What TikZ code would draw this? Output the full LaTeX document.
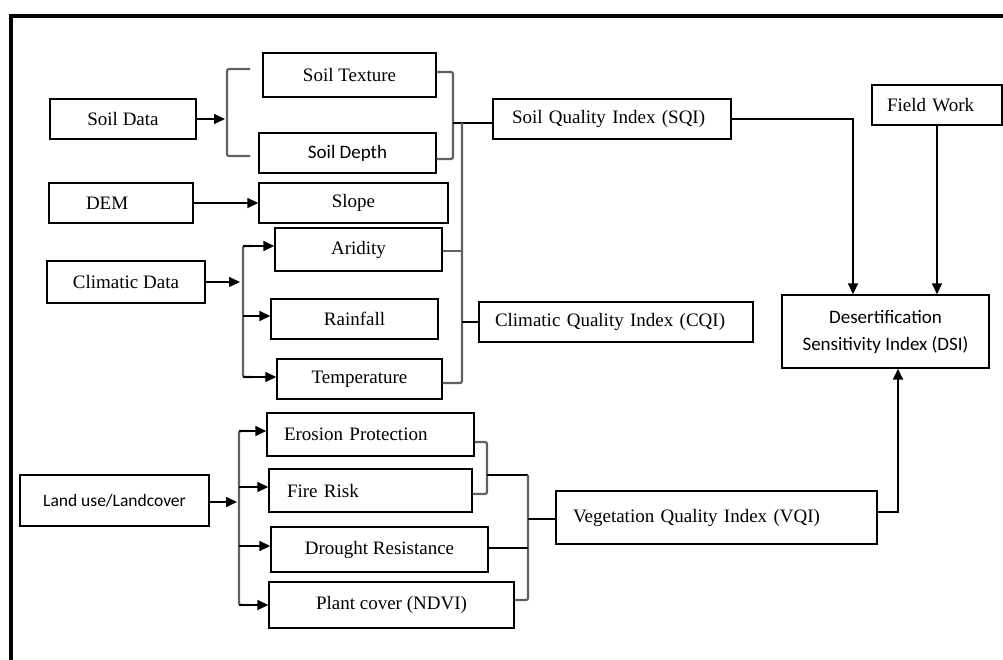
\documentclass[tikz,border=0pt]{standalone}
\usepackage{fontspec}
\setmainfont{Liberation Serif}
\newfontfamily\sansf{Carlito}
\usetikzlibrary{arrows.meta}
\begin{document}
\begin{tikzpicture}[x=1pt,y=-1pt,
  box/.style={draw, line width=1.4pt, inner sep=0pt, font=\fontsize{19}{22}\selectfont},
  lbox/.style={box, align=left},
  conn/.style={line width=1.6pt},
  brk/.style={line width=2.2pt, draw=black!62, rounded corners=2pt},
  arr/.style={conn, -{Triangle[length=11pt,width=10pt]}},
]
\useasboundingbox (0,0) rectangle (1003,660);
% frame
\draw[line width=3.2pt] (11,662) -- (11,16) -- (1010,16);

% soil group
\node[box, minimum width=173pt, minimum height=44pt] (tex) at (349.5,75) {Soil Texture};
\node[box, minimum width=146pt, minimum height=40pt] (sdata) at (123,119) {Soil Data};
\node[box, minimum width=177pt, minimum height=40pt, font=\sansf\fontsize{19}{22}\selectfont] (depth) at (347.5,153) {Soil Depth};
\node[lbox, inner xsep=19pt, text width=200pt, minimum height=40pt] (sqi) at (612,119) {Soil Quality Index (SQI)};
\node[lbox, inner xsep=15pt, text width=100pt, minimum height=40pt] (field) at (937,105) {Field Work};

\node[lbox, inner xsep=37pt, text width=70pt, minimum height=40pt] (dem) at (121,203) {DEM};
\node[box, minimum width=189pt, minimum height=40pt] (slope) at (353.5,203) {Slope};

% climate group
\node[box, minimum width=167pt, minimum height=43pt] (arid) at (358.5,249.5) {Aridity};
\node[box, minimum width=158pt, minimum height=42pt] (clim) at (126,282) {Climatic Data};
\node[box, minimum width=167pt, minimum height=40pt] (rain) at (354.5,319) {Rainfall};
\node[box, minimum width=165pt, minimum height=40pt] (temp) at (359.5,379) {Temperature};
\node[lbox, inner xsep=16pt, text width=242pt, minimum height=40pt] (cqi) at (616,322) {Climatic Quality Index (CQI)};

\node[box, minimum width=207pt, minimum height=73pt, align=center, font=\sansf\fontsize{19}{27}\selectfont] (dsi) at (885.5,331.5) {Desertification\\Sensitivity Index (DSI)};

% vegetation group
\node[lbox, inner xsep=17pt, text width=173pt, minimum height=43pt] (eros) at (370.5,434.5) {Erosion Protection};
\node[lbox, inner xsep=18pt, text width=167pt, minimum height=43pt] (fire) at (370.5,490.5) {Fire Risk};
\node[box, minimum width=189pt, minimum height=51pt, font=\sansf\fontsize{17.5}{21}\selectfont] (land) at (114.5,500.5) {Land use/Landcover};
\node[box, minimum width=217pt, minimum height=45pt] (drought) at (379.5,549.5) {Drought Resistance};
\node[box, minimum width=245pt, minimum height=46pt] (plant) at (391.5,605) {Plant cover (NDVI)};
\node[lbox, inner xsep=17pt, text width=287pt, minimum height=53pt] (vqi) at (716.5,517.5) {Vegetation Quality Index (VQI)};

% soil connectors
\coordinate (sdtip) at (225,119);
\draw[arr] (sdata.east) -- (sdtip);
\draw[brk] (250,69) -- (227,69) -- (227,156) -- (250,156);
\draw[brk] (tex.east |- 0,72) -- (453,72) -- (453,159) -- (depth.east |- 0,159);
\draw[conn] (453,123) -- (sqi.west |- 0,123);
\draw[brk] (arid.east |- 0,251) -- (462,251);
\draw[brk] (462,123) -- (462,383) -- (temp.east |- 0,383);
\draw[conn] (462,322) -- (cqi.west);
\draw[arr] (dem.east) -- (slope.west);

% climate connectors
\coordinate (cltip) at (240,282);
\draw[arr] (clim.east) -- (cltip);
\draw[brk] (252,246) -- (243,246) -- (243,377) -- (252,377);
\draw[arr] (243,246) -- (arid.west |- 0,246);
\draw[arr] (243,316) -- (rain.west |- 0,316);
\draw[arr] (243,377) -- (temp.west |- 0,377);

% vegetation connectors
\coordinate (lutip) at (237,502);
\draw[arr] (land.east |- 0,502) -- (lutip);
\draw[brk] (250,431) -- (239,431) -- (239,605) -- (250,605);
\draw[arr] (239,431) -- (eros.west |- 0,431);
\draw[arr] (239,487) -- (fire.west |- 0,487);
\draw[arr] (239,546) -- (drought.west |- 0,546);
\draw[arr] (239,605) -- (plant.west |- 0,605);
\draw[brk] (eros.east |- 0,442) -- (487,442) -- (487,494) -- (fire.east |- 0,494);
\draw[conn] (487,475) -- (528,475);
\draw[brk] (528,475) -- (528,600) -- (plant.east |- 0,600);
\draw[conn] (drought.east |- 0,548) -- (528,548);
\draw[conn] (528,519) -- (vqi.west |- 0,519);

% to DSI
\draw[arr] (vqi.east |- 0,512) -- (898,512) -- (dsi.south -| 898,0);
\draw[arr] (sqi.east) -- (853,119) -- (dsi.north -| 853,0);
\draw[arr] (field.south) -- (field.south |- dsi.north);
\end{tikzpicture}
\end{document}
